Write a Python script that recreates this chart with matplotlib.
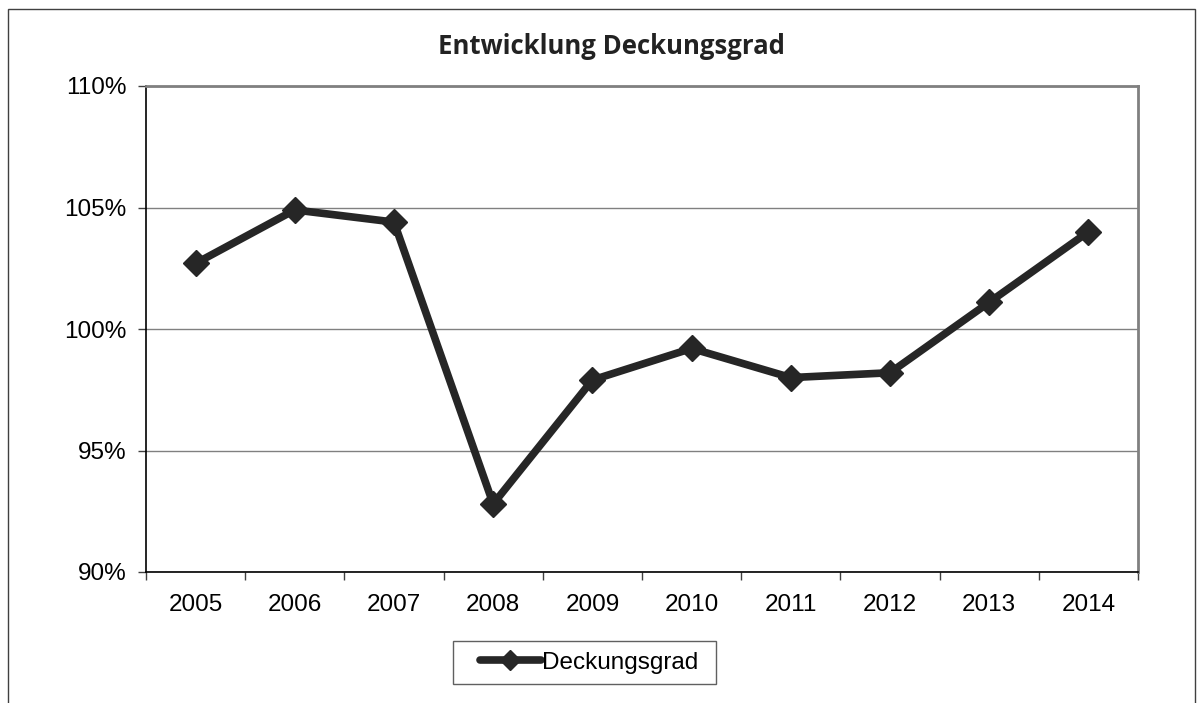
import matplotlib
matplotlib.use("Agg")
import matplotlib.pyplot as plt
from matplotlib.patches import Rectangle
from matplotlib.ticker import FixedLocator

years = ["2005", "2006", "2007", "2008", "2009", "2010", "2011", "2012", "2013", "2014"]
deckungsgrad = [102.7, 104.9, 104.4, 92.8, 97.9, 99.2, 98.0, 98.2, 101.1, 104.0]
y_ticks = [90, 95, 100, 105, 110]
y_labels = ["90%", "95%", "100%", "105%", "110%"]
series_name = "Deckungsgrad"
title = "Entwicklung Deckungsgrad"

W, H = 1203, 703
fig = plt.figure(figsize=(W / 100, H / 100), dpi=100)
fig.patch.set_facecolor("white")

# outer chart frame (extends beyond bottom edge)
fig.patches.append(Rectangle((8 / W, -0.05), (1195 - 8) / W, 1.05 - 9 / H,
                             transform=fig.transFigure, fill=False,
                             edgecolor="#404040", linewidth=1.0))

left, right, top, bottom = 146, 1138, 86, 572
ax = fig.add_axes([left / W, 1 - bottom / H, (right - left) / W, (bottom - top) / H])

x = list(range(len(years)))
line_color = "#262626"
ax.plot(x, deckungsgrad, color=line_color, linewidth=5.5, marker="D",
        markersize=13, markerfacecolor=line_color, markeredgecolor=line_color,
        label=series_name, solid_joinstyle="miter", solid_capstyle="round", zorder=3)

ax.set_xlim(-0.5, len(years) - 0.5)
ax.set_ylim(90, 110)
ax.set_yticks(y_ticks)
ax.set_yticklabels(y_labels)
ax.set_xticks(x)
ax.set_xticklabels(years)
ax.xaxis.set_minor_locator(FixedLocator([i - 0.5 for i in range(len(years) + 1)]))

ax.tick_params(axis="x", which="major", length=0, pad=16)
ax.tick_params(axis="x", which="minor", length=6, width=1, direction="out", color="#404040")
ax.tick_params(axis="y", which="major", length=6, width=1, direction="out", pad=8, color="#404040")
for lab in ax.get_xticklabels() + ax.get_yticklabels():
    lab.set_fontfamily("Liberation Sans")
    lab.set_fontsize(17.5)
    lab.set_color("black")

ax.grid(axis="y", color="#808080", linewidth=1.0)
ax.set_axisbelow(True)
ax.spines["left"].set_color("black")
ax.spines["bottom"].set_color("black")
ax.spines["left"].set_linewidth(1.2)
ax.spines["bottom"].set_linewidth(1.2)
ax.spines["top"].set_color("#808080")
ax.spines["right"].set_color("#808080")
ax.spines["top"].set_linewidth(2)
ax.spines["right"].set_linewidth(2)

fig.text(611.5 / W, 1 - 47 / H, title, ha="center", va="center",
         fontfamily="Open Sans", fontweight="bold", fontsize=18.5, color="#222222")

# legend frame drawn separately
fig.patches.append(Rectangle((453 / W, 1 - 684 / H), (716 - 453) / W, (684 - 641) / H,
                             transform=fig.transFigure, fill=False,
                             edgecolor="#606060", linewidth=1.0))
leg = fig.legend(loc="center left", bbox_to_anchor=(480 / W, 1 - 662.5 / H),
                 frameon=False,
                 prop={"family": "Liberation Sans", "size": 17.5},
                 handlelength=2.5, handletextpad=0.05, borderpad=0.0,
                 borderaxespad=0)
for h in leg.legend_handles:
    h.set_markersize(10)
    h.set_solid_capstyle("round")

fig.savefig("out.png", dpi=100, facecolor="white")
